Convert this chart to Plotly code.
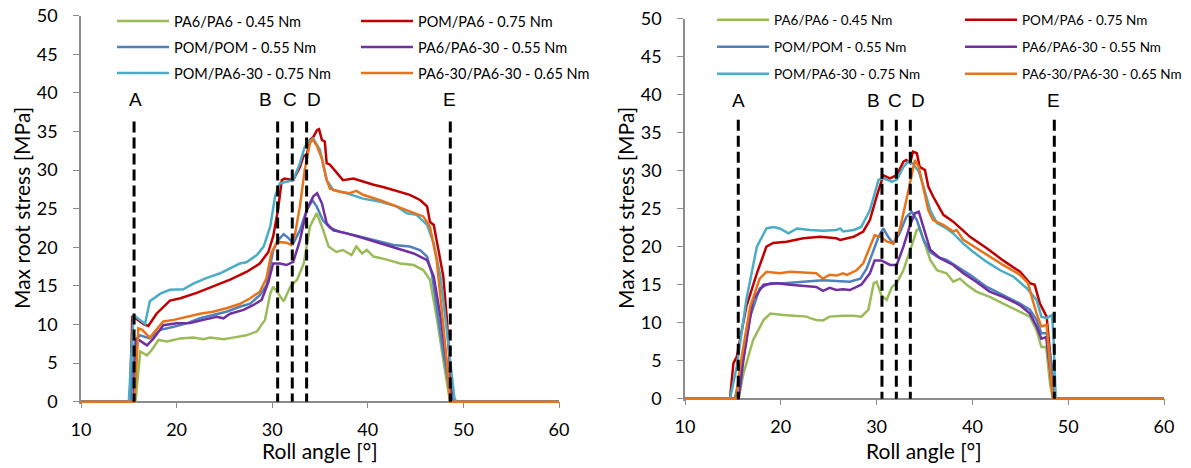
import plotly.graph_objects as go

# ---------------- data: left chart ----------------
L_green_x = [10, 15.7, 16.2, 16.9, 17.4, 18.1, 19.0, 20.4, 21.75, 22.8, 23.5, 24.9, 25.9, 27.3, 28.4, 29.25, 29.8, 30.1, 30.5, 31.2, 31.9, 32.6, 33.3, 33.95, 34.65, 35.2, 35.9, 36.7, 37.4, 38.3, 38.8, 39.4, 39.9, 40.6, 42.0, 43.4, 44.8, 45.8, 46.5, 47.2, 47.9, 48.6, 60]
L_green_y = [0, 0, 6.5, 6.0, 6.7, 8.0, 7.8, 8.2, 8.3, 8.1, 8.3, 8.1, 8.3, 8.6, 9.1, 10.6, 14.0, 14.9, 14.25, 13.0, 14.9, 15.8, 17.9, 22.7, 24.4, 22.7, 20.1, 19.4, 19.65, 19.0, 20.1, 19.2, 19.65, 18.8, 18.4, 17.9, 17.7, 17.05, 15.8, 11.0, 5.4, 0, 0]

L_red_x = [10, 15.1, 15.37, 16.0, 16.6, 17.04, 17.9, 19.3, 20.4, 22.1, 23.8, 25.6, 27.3, 28.7, 29.6, 30.1, 30.6, 31.0, 31.3, 32.2, 32.9, 33.3, 33.6, 33.95, 34.3, 34.7, 34.9, 35.2, 35.5, 35.7, 36.05, 36.7, 37.4, 38.5, 39.5, 40.6, 41.6, 43.0, 44.4, 45.5, 46.2, 46.5, 46.9, 47.4, 47.9, 48.25, 48.6, 48.95, 60]
L_red_y = [0, 0, 11.1, 10.5, 10.0, 9.8, 11.4, 13.1, 13.4, 14.1, 14.9, 15.8, 16.8, 17.9, 19.4, 21.4, 24.8, 28.7, 28.9, 28.7, 30.4, 31.9, 31.9, 33.9, 34.3, 35.2, 35.3, 33.9, 33.7, 30.9, 30.7, 29.8, 28.7, 28.9, 28.5, 28.1, 27.8, 27.3, 26.8, 26.1, 25.3, 23.3, 22.9, 19.6, 16.2, 11.0, 4.5, 0, 0]

L_blue_x = [10, 15.2, 15.65, 16.2, 17.2, 18.3, 19.7, 21.05, 22.45, 23.8, 25.2, 26.6, 27.7, 28.7, 29.4, 30.1, 30.6, 31.2, 31.7, 32.2, 32.9, 33.6, 34.2, 34.65, 35.3, 36.05, 37.1, 38.5, 39.9, 41.3, 42.7, 44.4, 45.5, 46.2, 46.7, 47.2, 47.9, 48.6, 49.3, 60]
L_blue_y = [0, 0, 8.0, 8.6, 8.2, 9.3, 9.7, 10.15, 10.8, 11.2, 11.65, 12.3, 12.7, 13.8, 15.1, 19.6, 20.9, 21.7, 21.2, 20.5, 22.2, 24.8, 26.1, 25.3, 23.5, 22.5, 22.0, 21.6, 21.2, 20.7, 20.3, 20.1, 19.6, 18.8, 16.6, 12.3, 6.3, 1.1, 0, 0]

L_purple_x = [10, 15.5, 15.8, 16.35, 16.9, 17.6, 18.6, 20.0, 21.4, 22.8, 24.2, 24.9, 25.6, 27.0, 28.0, 28.9, 29.6, 30.1, 30.8, 31.5, 32.2, 32.9, 33.6, 34.3, 34.7, 35.2, 35.7, 36.4, 37.8, 39.5, 41.3, 43.0, 44.8, 46.2, 46.9, 47.6, 48.25, 48.8, 60]
L_purple_y = [0, 0, 8.2, 7.8, 7.3, 8.2, 9.9, 10.15, 10.2, 10.6, 11.0, 10.8, 11.4, 11.9, 12.5, 13.2, 15.5, 17.9, 17.9, 17.7, 18.1, 20.9, 24.8, 26.6, 27.0, 25.7, 23.1, 22.2, 21.8, 21.2, 20.5, 19.9, 19.2, 18.35, 16.2, 11.0, 5.0, 0, 0]

L_teal_x = [10, 15.0, 15.5, 16.1, 16.7, 17.2, 18.3, 19.3, 20.7, 21.75, 23.1, 24.5, 25.9, 26.6, 27.3, 28.4, 29.1, 29.8, 30.3, 30.8, 31.5, 32.2, 32.9, 33.4, 33.8, 34.3, 35.0, 35.7, 36.4, 37.8, 39.5, 41.3, 43.0, 44.1, 45.1, 46.2, 46.9, 47.6, 48.1, 48.6, 49.1, 60]
L_teal_y = [0, 0, 11.2, 10.6, 10.1, 13.0, 14.0, 14.5, 14.55, 15.3, 16.0, 16.6, 17.5, 17.9, 18.05, 19.0, 20.1, 22.7, 26.6, 28.3, 28.5, 28.7, 30.9, 33.0, 33.7, 34.1, 32.6, 28.7, 27.4, 27.0, 26.3, 25.9, 25.3, 24.4, 24.2, 22.9, 20.5, 16.2, 11.0, 5.4, 0, 0]

L_orange_x = [10, 15.6, 16.0, 16.4, 17.2, 17.9, 18.6, 19.7, 21.05, 22.45, 23.8, 25.2, 26.6, 27.7, 28.7, 29.4, 29.9, 30.5, 31.5, 32.0, 32.4, 32.9, 33.4, 33.95, 34.2, 34.65, 35.2, 35.7, 36.05, 37.1, 38.1, 38.8, 39.5, 41.3, 43.0, 44.8, 45.8, 46.5, 47.2, 47.7, 48.25, 48.6, 60]
L_orange_y = [0, 0, 9.5, 9.3, 8.3, 9.3, 10.4, 10.6, 11.0, 11.4, 11.65, 12.1, 12.65, 13.4, 14.25, 16.0, 19.2, 20.7, 20.6, 20.3, 21.8, 25.3, 30.0, 33.5, 34.0, 33.2, 31.5, 28.7, 27.6, 27.2, 27.0, 27.3, 26.8, 26.1, 25.3, 24.4, 24.0, 22.7, 18.4, 12.3, 5.4, 0, 0]

# ---------------- data: right chart ----------------
R_green_x = [10, 15.6, 16.1, 17.1, 18.2, 18.9, 20.3, 21.66, 22.7, 23.05, 23.7, 24.4, 25.1, 26.5, 27.6, 28.4, 29.14, 29.7, 30.0, 30.5, 31.05, 31.6, 32.1, 32.8, 33.5, 34.2, 34.5, 35.05, 35.6, 36.3, 37.3, 38.0, 38.7, 39.4, 40.4, 41.8, 43.2, 44.97, 46.0, 46.7, 47.2, 47.7, 48.1, 48.4, 60]
R_green_y = [0, 0, 3.3, 7.7, 10.35, 11.2, 11.0, 10.9, 10.8, 10.6, 10.35, 10.3, 10.8, 10.9, 10.9, 10.8, 11.7, 15.2, 15.4, 13.6, 13.0, 14.7, 15.2, 16.9, 19.6, 22.2, 22.4, 20.4, 18.25, 16.9, 16.5, 15.4, 15.8, 15.0, 14.1, 13.4, 12.5, 11.4, 10.8, 9.0, 6.8, 6.8, 2.0, 0, 0]

R_red_x = [10, 14.7, 15.05, 15.4, 16.4, 17.5, 18.5, 19.2, 20.6, 22.35, 24.1, 25.8, 26.2, 27.6, 28.6, 29.3, 30.0, 30.7, 31.05, 31.4, 32.1, 32.8, 33.1, 33.5, 33.8, 34.2, 34.5, 35.05, 35.4, 35.9, 36.97, 38.0, 39.75, 41.5, 43.2, 44.97, 46.0, 46.5, 47.05, 47.75, 48.3, 48.45, 60]
R_red_y = [0, 0, 4.65, 5.5, 12.1, 16.5, 20.0, 20.5, 20.65, 21.1, 21.3, 21.1, 20.9, 21.3, 22.0, 23.5, 26.6, 29.4, 29.2, 29.0, 29.4, 31.2, 31.4, 31.0, 32.5, 32.3, 30.5, 30.1, 27.9, 26.6, 24.2, 23.3, 21.3, 19.8, 18.2, 16.7, 15.2, 15.0, 12.5, 10.8, 3.3, 0, 0]

R_blue_x = [10, 15.2, 15.74, 16.8, 17.8, 18.9, 20.3, 21.66, 23.05, 24.4, 25.8, 27.2, 28.3, 28.96, 29.7, 30.2, 30.7, 31.2, 31.75, 32.4, 33.1, 33.66, 34.2, 34.9, 35.6, 36.3, 37.3, 38.4, 39.75, 41.5, 43.2, 44.97, 46.0, 46.7, 47.2, 47.75, 48.3, 48.6, 60]
R_blue_y = [0, 0, 2.9, 10.8, 14.5, 15.2, 15.2, 15.3, 15.5, 15.6, 15.5, 15.4, 15.8, 17.1, 19.6, 21.3, 22.4, 21.3, 20.4, 21.75, 23.9, 24.6, 23.5, 20.9, 19.3, 18.7, 18.25, 17.4, 16.3, 14.7, 13.6, 12.5, 11.7, 10.35, 8.6, 8.6, 4.2, 0, 0]

R_purple_x = [10, 15.6, 16.1, 17.1, 18.2, 19.57, 20.96, 22.35, 23.7, 24.4, 25.1, 25.8, 26.5, 27.2, 28.4, 29.3, 29.8, 30.5, 31.4, 32.1, 32.8, 33.5, 34.0, 34.4, 34.9, 35.6, 36.6, 38.0, 39.05, 40.4, 41.8, 43.2, 44.97, 46.0, 46.7, 47.2, 47.7, 48.1, 48.45, 60]
R_purple_y = [0, 0, 5.1, 13.0, 15.0, 15.2, 15.0, 14.8, 14.7, 14.2, 14.6, 14.3, 14.4, 14.3, 15.0, 16.5, 18.2, 18.2, 17.6, 17.6, 20.0, 22.85, 24.4, 24.6, 22.6, 19.6, 18.5, 17.6, 16.5, 15.4, 14.1, 13.4, 12.3, 11.2, 9.5, 7.9, 8.1, 3.3, 0, 0]

R_teal_x = [10, 14.7, 15.4, 16.4, 17.5, 18.5, 19.2, 19.9, 20.8, 21.7, 23.05, 24.4, 25.8, 26.2, 26.5, 27.6, 28.4, 29.3, 30.2, 30.7, 31.6, 32.1, 32.8, 33.3, 33.8, 34.4, 34.9, 35.6, 36.3, 37.3, 38.0, 39.05, 40.1, 41.5, 42.9, 44.3, 45.7, 46.7, 47.2, 47.75, 48.3, 48.45, 48.7, 60]
R_teal_y = [0, 0, 4.2, 13.0, 20.0, 22.4, 22.6, 22.4, 21.75, 22.4, 22.2, 22.1, 22.2, 22.4, 22.0, 22.2, 22.6, 24.8, 28.8, 29.0, 28.55, 28.8, 30.5, 31.2, 30.9, 29.9, 27.9, 24.8, 23.1, 22.4, 21.75, 20.4, 19.3, 18.0, 16.9, 16.05, 14.5, 13.0, 10.8, 10.6, 11.0, 8.6, 0, 0]

R_orange_x = [10, 15.3, 15.74, 16.8, 17.8, 18.5, 19.9, 20.96, 22.35, 23.7, 24.4, 25.1, 25.8, 26.5, 26.9, 27.9, 28.6, 29.3, 29.8, 30.4, 31.05, 31.75, 32.4, 33.1, 33.66, 34.0, 34.4, 34.9, 35.4, 35.9, 37.0, 38.0, 38.35, 39.05, 40.4, 41.5, 43.2, 44.97, 45.8, 46.4, 46.7, 47.2, 47.75, 48.1, 48.4, 60]
R_orange_y = [0, 0, 4.2, 12.1, 15.8, 16.7, 16.5, 16.7, 16.6, 16.5, 15.8, 16.3, 16.2, 16.5, 16.3, 16.9, 17.8, 20.0, 21.5, 21.3, 20.7, 20.4, 22.2, 26.1, 29.6, 31.4, 30.5, 27.5, 24.8, 23.5, 22.85, 22.0, 22.2, 20.9, 19.8, 18.9, 17.6, 16.3, 15.2, 12.5, 11.2, 9.5, 9.7, 4.2, 0, 0]

# ---------------- names, colours, markers ----------------
series_names = ["PA6/PA6 - 0.45 Nm", "POM/PA6 - 0.75 Nm", "POM/POM - 0.55 Nm",
                "PA6/PA6-30 - 0.55 Nm", "POM/PA6-30 - 0.75 Nm", "PA6-30/PA6-30 - 0.65 Nm"]
series_colors = ["#9BBB59", "#C00000", "#4F81BD", "#7030A0", "#4BACC6", "#E8731A"]

phase_labels = ["A", "B", "C", "D", "E"]
L_phase_x = [15.55, 30.57, 32.1, 33.6, 48.63]
L_phase_top = 36.3
L_label_x = [15.65, 29.35, 31.9, 34.4, 48.5]
L_label_y = 39.1
R_phase_x = [15.56, 30.56, 32.06, 33.52, 48.55]
R_phase_top = 36.7
R_label_x = [15.55, 29.66, 31.92, 34.3, 48.5]
R_label_y = 39.3

x_ticks = [10, 20, 30, 40, 50, 60]
y_ticks = [0, 5, 10, 15, 20, 25, 30, 35, 40, 45, 50]

W, H = 1191, 468
AX = "#8C8C8C"
TICKFONT = dict(family="Lato", size=18, color="#000000")

left_series = [(L_green_x, L_green_y), (L_red_x, L_red_y), (L_blue_x, L_blue_y),
               (L_purple_x, L_purple_y), (L_teal_x, L_teal_y), (L_orange_x, L_orange_y)]
right_series = [(R_green_x, R_green_y), (R_red_x, R_red_y), (R_blue_x, R_blue_y),
                (R_purple_x, R_purple_y), (R_teal_x, R_teal_y), (R_orange_x, R_orange_y)]

def px_x(p):
    return p / W

def px_y(p):
    return 1 - p / H

# legend cell positions (pixels): column line starts, row centres
L_leg_cols = [112, 356]
L_leg_rows = [21, 47, 73]
R_leg_cols = [712, 960]
R_leg_rows = [20, 47, 74]

fig = go.Figure()
legend_layout = {}
leg_counter = [0]

def legend_cfg(x, y, size):
    return dict(orientation="v", itemwidth=52,
                font=dict(family="Lato", size=size, color="#000000"),
                bgcolor="rgba(0,0,0,0)", xanchor="left", yanchor="middle",
                itemclick=False, itemdoubleclick=False, x=x, y=y)

def add_chart(series, xa, ya, cols, rows, fsize):
    for i, (xs, ys) in enumerate(series):
        leg_counter[0] += 1
        key = "legend" if leg_counter[0] == 1 else "legend%d" % leg_counter[0]
        legend_layout[key] = legend_cfg(px_x(cols[i % 2]), px_y(rows[i // 2]), fsize)
        fig.add_trace(go.Scatter(
            x=xs, y=ys, mode="lines", name=series_names[i],
            line=dict(color=series_colors[i], width=2.5),
            xaxis=xa, yaxis=ya, legend=key, hoverinfo="skip"))

add_chart(left_series, "x", "y", L_leg_cols, L_leg_rows, 14.5)
add_chart(right_series, "x2", "y2", R_leg_cols, R_leg_rows, 13.5)

def add_phases(px, top, xa, ya):
    for xv in px:
        fig.add_trace(go.Scatter(
            x=[xv, xv], y=[top, 0], mode="lines", showlegend=False,
            line=dict(color="black", width=3, dash="11px,5px"),
            xaxis=xa, yaxis=ya, hoverinfo="skip"))

add_phases(L_phase_x, L_phase_top, "x", "y")
add_phases(R_phase_x, R_phase_top, "x2", "y2")

for lx, lab in zip(L_label_x, phase_labels):
    fig.add_annotation(x=lx, y=L_label_y, xref="x", yref="y", text=lab, showarrow=False,
                       xanchor="center", yanchor="middle",
                       font=dict(family="Liberation Sans", size=19, color="black"))
for rx, lab in zip(R_label_x, phase_labels):
    fig.add_annotation(x=rx, y=R_label_y, xref="x2", yref="y2", text=lab, showarrow=False,
                       xanchor="center", yanchor="middle",
                       font=dict(family="Liberation Sans", size=19, color="black"))

# ---------------- layout (pixel geometry) ----------------
YR = [-0.35, 50]
Ldom_x = [px_x(81), px_x(559)]
Ldom_y = [px_y(401.7 + 0.35 * 7.72), px_y(15.7)]
Rdom_x = [px_x(685), px_x(1164)]
Rdom_y = [px_y(398.7 + 0.35 * 7.6), px_y(18.7)]

def zero_pos(dom):
    return dom[0] + (0 - YR[0]) / (YR[1] - YR[0]) * (dom[1] - dom[0])

def xaxis_cfg(dom, ydom, ticks, showlabels=True, overlay=None):
    d = dict(range=[10, 60], domain=dom, anchor="free", position=zero_pos(ydom),
             tickvals=x_ticks, ticks=ticks, ticklen=6, tickwidth=1.3, tickcolor=AX,
             showgrid=False, zeroline=False, layer="below traces",
             showline=showlabels, linecolor=AX, linewidth=1.5,
             showticklabels=showlabels, tickfont=TICKFONT, automargin=False,
             ticklabelstandoff=6, ticklabeloverflow="allow")
    if overlay:
        d["overlaying"] = overlay
    return d

def yaxis_cfg(dom, anchor, ticks, showlabels=True, overlay=None):
    d = dict(range=YR, domain=dom, anchor=anchor,
             tickvals=y_ticks, ticks=ticks, ticklen=6, tickwidth=1.3, tickcolor=AX,
             showgrid=False, zeroline=False, layer="below traces",
             showline=showlabels, linecolor=AX, linewidth=1.5,
             showticklabels=showlabels, tickfont=TICKFONT, automargin=False,
             ticklabelstandoff=12, ticklabeloverflow="allow")
    if overlay:
        d["overlaying"] = overlay
    return d

fig.update_layout(
    width=W, height=H,
    margin=dict(l=0, r=0, t=0, b=0, autoexpand=False),
    paper_bgcolor="white", plot_bgcolor="white",
    hovermode=False,
    xaxis=xaxis_cfg(Ldom_x, Ldom_y, "outside"),
    yaxis=yaxis_cfg(Ldom_y, "x", "outside"),
    xaxis2=xaxis_cfg(Rdom_x, Rdom_y, "outside"),
    yaxis2=yaxis_cfg(Rdom_y, "x2", "outside"),
    xaxis3=xaxis_cfg(Ldom_x, Ldom_y, "inside", showlabels=False, overlay="x"),
    yaxis3=yaxis_cfg(Ldom_y, "x", "inside", showlabels=False, overlay="y"),
    xaxis4=xaxis_cfg(Rdom_x, Rdom_y, "inside", showlabels=False, overlay="x2"),
    yaxis4=yaxis_cfg(Rdom_y, "x2", "inside", showlabels=False, overlay="y2"),
    **legend_layout,
)

# axis titles
for cx in [(81 + 559) / 2, (685 + 1164) / 2]:
    fig.add_annotation(x=px_x(cx), y=px_y(450), xref="paper", yref="paper",
                       xanchor="center", yanchor="middle",
                       text="Roll angle [°]", showarrow=False,
                       font=dict(family="Lato", size=21, color="black"))
for cx, cy in [(21, 208), (625, 208)]:
    fig.add_annotation(x=px_x(cx), y=px_y(cy), xref="paper", yref="paper",
                       xanchor="center", yanchor="middle",
                       text="Max root stress [MPa]", showarrow=False, textangle=-90,
                       font=dict(family="Lato", size=21, color="black"))

# the default page body has an 8px margin; remove it so the figure fills the window
fig.write_html("out.html", config={"displayModeBar": False},
               post_script="document.body.style.margin='0';")
